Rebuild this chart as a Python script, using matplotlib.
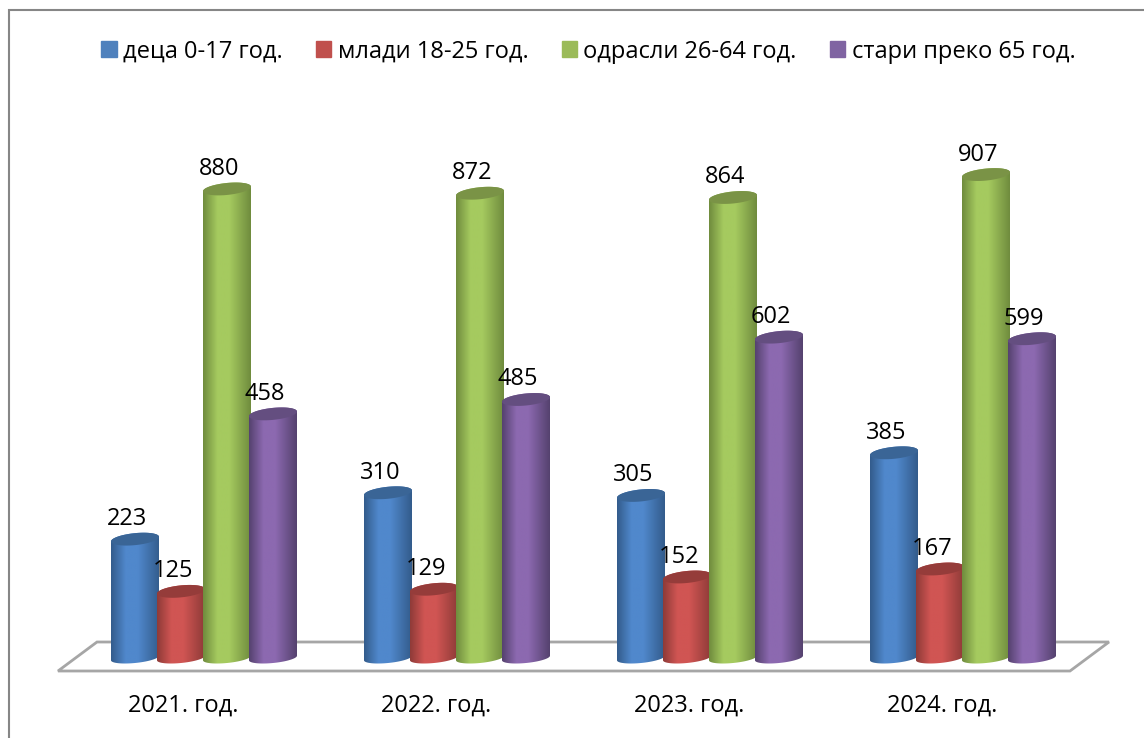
import matplotlib.pyplot as plt
from matplotlib.colors import LinearSegmentedColormap
from matplotlib.patches import Patch, PathPatch, Polygon
from matplotlib.path import Path
import numpy as np

plt.rcParams['font.family'] = ['Open Sans', 'DejaVu Sans']

years = ["2021. год.", "2022. год.", "2023. год.", "2024. год."]
series_names = ["деца 0-17 год.", "млади 18-25 год.", "одрасли 26-64 год.", "стари преко 65 год."]
deca = [223, 310, 305, 385]
mladi = [125, 129, 152, 167]
odrasli = [880, 872, 864, 907]
stari = [458, 485, 602, 599]
all_series = [deca, mladi, odrasli, stari]

legend_colors = ['#4F81BD', '#C0504D', '#9BBB59', '#8064A2']
# edge, middle, top face
shades = [('#335C8C', '#5088CC', '#3A6596'),
          ('#8F3B38', '#D05553', '#953C3A'),
          ('#708C3E', '#A5CA5F', '#7A9346'),
          ('#55426F', '#8C69B0', '#644E80')]

W, H = 1144, 738
group_x0, group_step = 204, 253  # pixels
bar_step, half_w = 46, 24
base_y, px_per_unit = 658, 0.533

fig = plt.figure(figsize=(W / 100, H / 100), dpi=100)
ax = fig.add_axes([0, 0, 1, 1])
xlim = (-group_x0 / group_step, (W - group_x0) / group_step)
ylim = ((base_y - H) / px_per_unit, base_y / px_per_unit)
unit_x = 1 / group_step
unit_y = 1 / px_per_unit


def px(x, y):
    return (x - group_x0) * unit_x, (base_y - y) * unit_y


# frame, only left and top are visible
ax.plot(*zip(px(9.5, H), px(9.5, 9.5), px(W, 9.5)), color='#868686', lw=1.5, zorder=1, solid_joinstyle='miter')

# floor
floor = [px(58, 671), px(97, 642), px(1109, 642), px(1070, 671)]
ax.add_patch(Polygon(floor, closed=True, fc='white', ec='#A6A6A6', lw=2.0, zorder=2))


def ellipse(cx, cy, b, t):
    x = cx + half_w * unit_x * np.cos(t)
    y = cy + (b * np.sin(t) + 2.3 * np.cos(t)) * unit_y
    return x, y


def cylinder(cx, value, shade, z):
    t = np.linspace(np.pi, 2 * np.pi, 40)
    bx, by = ellipse(cx, 0, 5, t)
    t2 = np.linspace(0, np.pi, 40)
    tx, ty = ellipse(cx, value, 6, t2)
    verts = np.column_stack([np.r_[bx, tx], np.r_[by, ty]])
    body = PathPatch(Path(np.r_[verts, verts[:1]]), fc='none', ec='none', zorder=z)
    ax.add_patch(body)
    cmap = LinearSegmentedColormap.from_list('c', [(0, shade[0]), (0.3, shade[1]), (0.55, shade[1]), (1, shade[0])])
    grad = np.linspace(0, 1, 100).reshape(1, -1)
    im = ax.imshow(grad, cmap=cmap, aspect='auto', zorder=z, interpolation='bilinear',
                   extent=[cx - half_w * unit_x, cx + half_w * unit_x, -20, value + 20])
    im.set_clip_path(body)
    # top face
    t3 = np.linspace(0, 2 * np.pi, 80)
    ex, ey = ellipse(cx, value, 6, t3)
    ax.fill(ex, ey, color=shade[2], lw=0, zorder=z + 0.1)


for i, year in enumerate(years):
    ax.text(i - 20.5 * unit_x, -90, year, ha='center', va='center', fontsize=17, color='black', zorder=30)
    for j, vals in enumerate(all_series):
        cx = i + (j - 1.5) * bar_step * unit_x
        cylinder(cx, vals[i], shades[j], 5 + j)
        ax.text(cx - 8 * unit_x, vals[i] + 20 * unit_y, str(vals[i]), ha='center', va='center',
                fontsize=17, color='black', zorder=30)

ax.set_xlim(xlim)
ax.set_ylim(ylim)
ax.axis('off')

handles = [Patch(color=c, label=n) for c, n in zip(legend_colors, series_names)]
fig.legend(handles=handles, ncol=4, loc='center', bbox_to_anchor=(588.5 / W, 1 - 51.5 / H), frameon=False,
           fontsize=17, handlelength=0.64, handleheight=0.64, handletextpad=0.27, columnspacing=1.42)

fig.savefig('out.png', dpi=100)
